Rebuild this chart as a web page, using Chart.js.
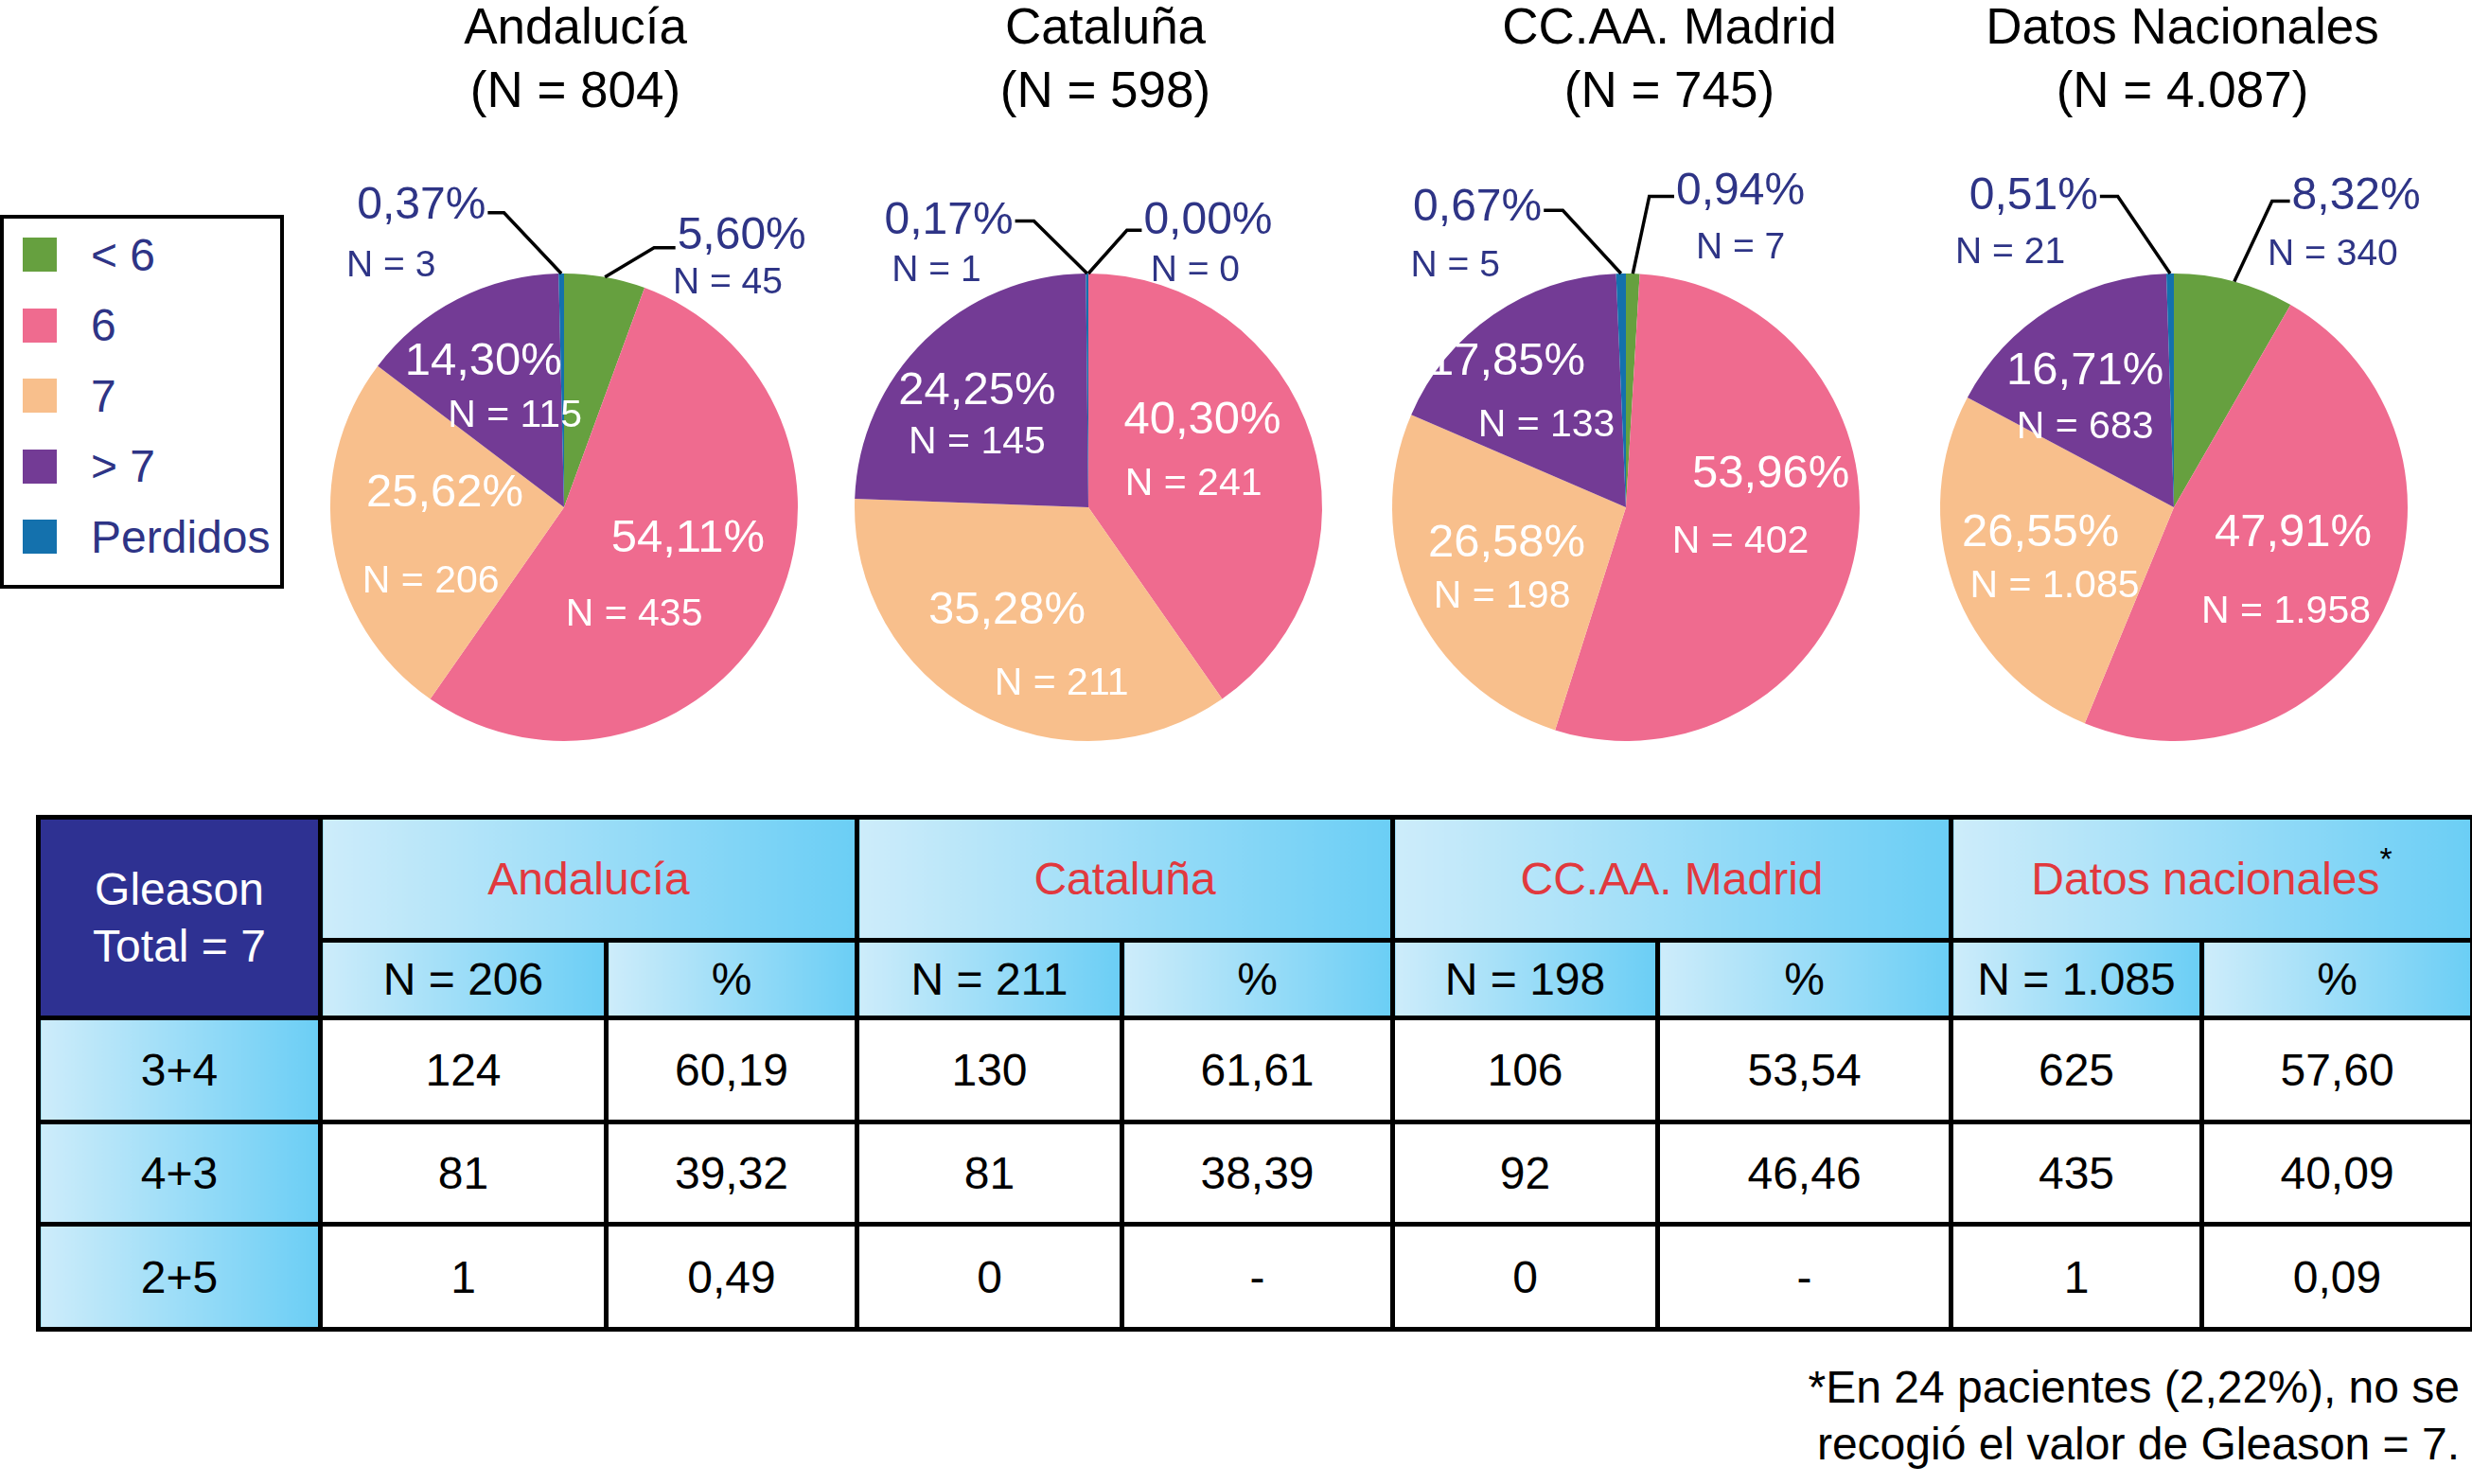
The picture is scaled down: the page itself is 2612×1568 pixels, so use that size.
<!DOCTYPE html>
<html>
<head>
<meta charset="utf-8">
<script src="https://cdn.jsdelivr.net/npm/chart.js@4.4.1/dist/chart.umd.min.js"></script>
<style>
  html, body { margin: 0; padding: 0; background: #fff; }
  body { width: 2612px; height: 1568px; position: relative; overflow: hidden; font-family: 'Liberation Sans', Arial, sans-serif; }
  canvas.pie { position: absolute; top: 150px; }
  .title { position: absolute; top: -6px; width: 600px; text-align: center; font-size: 53px; line-height: 67px; color: #000; }
  #legend { position: absolute; left: 0; top: 227px; width: 292px; height: 387px; border: 4px solid #000; }
  .lg { position: absolute; left: 20px; height: 50px; display: flex; align-items: center; font-size: 48px; color: #2e3486; }
  .lg i { display: inline-block; width: 36px; height: 36px; margin-right: 36px; }
  #tbl { position: absolute; left: 38px; top: 861px; width: 2572px; border-collapse: collapse; table-layout: fixed; font-size: 48px; }
  #tbl td { border: 5px solid #000; text-align: center; padding: 0; color: #000; }
  #tbl td.grad { background: linear-gradient(to right, #cdecfa, #6bcef5); }
  #tbl td.corner { background: #2e3192; color: #fff; line-height: 60px; }
  #tbl td.reg { color: #e1393e; }
  #tbl sup { color: #000; font-size: 34px; position: relative; top: -26px; vertical-align: baseline; line-height: 0; }
  #note { position: absolute; right: 13px; top: 1436px; text-align: right; font-size: 48px; line-height: 60px; color: #000; }
</style>
</head>
<body>
<div id="legend"></div>
<table id="tbl"></table>
<div id="note">*En 24 pacientes (2,22%), no se<br>recogió el valor de Gleason = 7.</div>

<script>
// --- data ---
const categories = ['< 6', '6', '7', '> 7', 'Perdidos'];
const regions = ['Andalucía', 'Cataluña', 'CC.AA. Madrid', 'Datos Nacionales'];
const regionTotals = [804, 598, 745, 4087];

const andaluciaN = [45, 435, 206, 115, 3];
const andaluciaPct = ['5,60', '54,11', '25,62', '14,30', '0,37'];
const catalunaN = [0, 241, 211, 145, 1];
const catalunaPct = ['0,00', '40,30', '35,28', '24,25', '0,17'];
const madridN = [7, 402, 198, 133, 5];
const madridPct = ['0,94', '53,96', '26,58', '17,85', '0,67'];
const nacionalN = [340, 1958, 1085, 683, 21];
const nacionalPct = ['8,32', '47,91', '26,55', '16,71', '0,51'];

// Gleason = 7 table
const tableRegions = ['Andalucía', 'Cataluña', 'CC.AA. Madrid', 'Datos nacionales'];
const gleason7Totals = [206, 211, 198, 1085];
const gleasonRows = ['3+4', '4+3', '2+5'];
const andaluciaG7 = [124, 81, 1];
const andaluciaG7Pct = ['60,19', '39,32', '0,49'];
const catalunaG7 = [130, 81, 0];
const catalunaG7Pct = ['61,61', '38,39', '-'];
const madridG7 = [106, 92, 0];
const madridG7Pct = ['53,54', '46,46', '-'];
const nacionalG7 = [625, 435, 1];
const nacionalG7Pct = ['57,60', '40,09', '0,09'];

// --- styles ---
const sliceColors = ['#66a03f', '#ef6b8f', '#f8bf8c', '#733b95', '#1471ad'];
const labelBlue = '#2e3486';
const pieCenters = [596, 1150, 1718, 2297];
const titleCenters = [608, 1168, 1764, 2306];

// label placement, in units of the pie radius from its centre
// inside: [pctX, pctY, nX, nY]; outer: pct / N text, elbow of the leader line
const labelLayout = [
  {
    inside: { 1: [0.53, 0.135, 0.30, 0.46], 2: [-0.51, -0.06, -0.57, 0.32], 3: [-0.345, -0.62, -0.21, -0.39] },
    outer: {
      0: { side: 'right', p: [0.76, -1.16], n: [0.70, -0.96], elbow: [0.385, -1.11] },
      4: { side: 'left', p: [-0.61, -1.29], n: [-0.74, -1.03], elbow: [-0.257, -1.26] }
    }
  },
  {
    inside: { 1: [0.488, -0.37, 0.45, -0.10], 2: [-0.348, 0.445, -0.115, 0.755], 3: [-0.476, -0.496, -0.476, -0.277] },
    outer: {
      0: { side: 'right', p: [0.512, -1.225], n: [0.457, -1.01], elbow: [0.165, -1.185] },
      4: { side: 'left', p: [-0.597, -1.225], n: [-0.65, -1.01], elbow: [-0.233, -1.225] }
    }
  },
  {
    inside: { 1: [0.62, -0.14, 0.49, 0.15], 2: [-0.51, 0.155, -0.53, 0.385], 3: [-0.51, -0.62, -0.34, -0.35] },
    outer: {
      0: { side: 'right', p: [0.49, -1.35], n: [0.49, -1.11], elbow: [0.10, -1.33] },
      4: { side: 'left', p: [-0.635, -1.28], n: [-0.73, -1.03], elbow: [-0.27, -1.27] }
    }
  },
  {
    inside: { 1: [0.51, 0.11, 0.48, 0.45], 2: [-0.57, 0.11, -0.51, 0.34], 3: [-0.38, -0.58, -0.38, -0.34] },
    outer: {
      0: { side: 'right', p: [0.78, -1.33], n: [0.68, -1.08], elbow: [0.42, -1.31] },
      4: { side: 'left', p: [-0.60, -1.33], n: [-0.70, -1.09], elbow: [-0.24, -1.33] }
    }
  }
];

const pieData = [andaluciaN, catalunaN, madridN, nacionalN];
const piePct = [andaluciaPct, catalunaPct, madridPct, nacionalPct];

const fmt = n => String(n).replace(/\B(?=(\d{3})+(?!\d))/g, '.');
const FONT = "'Liberation Sans', Arial, sans-serif";

// legend
const legendEl = document.getElementById('legend');
categories.forEach((c, i) => {
  const d = document.createElement('div');
  d.className = 'lg';
  d.style.top = (13 + i * 74.5) + 'px';
  d.innerHTML = `<i style="background:${sliceColors[i]}"></i>${c.replace('<', '&lt;').replace('>', '&gt;')}`;
  legendEl.appendChild(d);
});

// slice labels with leader lines
const sliceLabels = {
  id: 'sliceLabels',
  afterDatasetsDraw(chart) {
    const k = +chart.canvas.dataset.k;
    const lay = labelLayout[k];
    const pct = piePct[k];
    const values = chart.data.datasets[0].data;
    const ctx = chart.ctx;
    ctx.save();
    ctx.textAlign = 'center';
    ctx.textBaseline = 'middle';
    chart.getDatasetMeta(0).data.forEach((arc, i) => {
      const { x, y, outerRadius: r, startAngle, endAngle } =
        arc.getProps(['x', 'y', 'outerRadius', 'startAngle', 'endAngle'], true);
      const pctText = pct[i] + '%';
      const nText = 'N = ' + fmt(values[i]);
      if (lay.inside[i]) {
        const [px, py, nx, ny] = lay.inside[i];
        ctx.fillStyle = '#fff';
        ctx.font = `49px ${FONT}`;
        ctx.fillText(pctText, x + px * r, y + py * r);
        ctx.font = `41px ${FONT}`;
        ctx.fillText(nText, x + nx * r, y + ny * r);
      } else if (lay.outer[i]) {
        const o = lay.outer[i];
        const mid = (startAngle + endAngle) / 2;
        const px = x + o.p[0] * r, py = y + o.p[1] * r;
        ctx.font = `48px ${FONT}`;
        const w = ctx.measureText(pctText).width;
        const ex = x + o.elbow[0] * r, ey = y + o.elbow[1] * r;
        const tx = o.side === 'left' ? px + w / 2 + 2 : px - w / 2 - 2;
        ctx.strokeStyle = '#000';
        ctx.lineWidth = 3.5;
        ctx.beginPath();
        ctx.moveTo(x + Math.cos(mid) * r, y + Math.sin(mid) * r);
        ctx.lineTo(ex, ey);
        ctx.lineTo(tx, ey);
        ctx.stroke();
        ctx.fillStyle = labelBlue;
        ctx.fillText(pctText, px, py);
        ctx.font = `39px ${FONT}`;
        ctx.fillText(nText, x + o.n[0] * r, y + o.n[1] * r);
      }
    });
    ctx.restore();
  }
};

regions.forEach((name, k) => {
  const t = document.createElement('div');
  t.className = 'title';
  t.style.left = (titleCenters[k] - 300) + 'px';
  t.innerHTML = `${name}<br>(N = ${fmt(regionTotals[k])})`;
  document.body.appendChild(t);

  const cv = document.createElement('canvas');
  cv.className = 'pie';
  cv.width = 600;
  cv.height = 650;
  cv.dataset.k = k;
  cv.style.left = (pieCenters[k] - 300) + 'px';
  document.body.appendChild(cv);

  new Chart(cv, {
    type: 'pie',
    data: {
      labels: categories,
      datasets: [{ data: pieData[k], backgroundColor: sliceColors, borderWidth: 0 }]
    },
    options: {
      responsive: false,
      animation: false,
      radius: 247,
      layout: { padding: { top: 122, bottom: 0, left: 0, right: 0 } },
      plugins: { legend: { display: false }, tooltip: { enabled: false } }
    },
    plugins: [sliceLabels]
  });
});

// table
const g7N = [andaluciaG7, catalunaG7, madridG7, nacionalG7];
const g7Pct = [andaluciaG7Pct, catalunaG7Pct, madridG7Pct, nacionalG7Pct];
const colW = [298, 302, 265, 280, 286, 280, 310, 265, 286];
let html = '<colgroup>' + colW.map(w => `<col style="width:${w}px">`).join('') + '</colgroup>';
html += '<tr style="height:130px"><td class="corner" rowspan="2">Gleason<br>Total = 7</td>';
tableRegions.forEach((r, k) => {
  html += `<td class="grad reg" colspan="2">${r}${k === 3 ? '<sup>*</sup>' : ''}</td>`;
});
html += '</tr><tr style="height:82px">';
gleason7Totals.forEach(t => {
  html += `<td class="grad">N = ${fmt(t)}</td><td class="grad">%</td>`;
});
html += '</tr>';
const rowH = [110, 108, 111];
gleasonRows.forEach((g, i) => {
  html += `<tr style="height:${rowH[i]}px"><td class="grad">${g}</td>`;
  g7N.forEach((arr, k) => {
    html += `<td>${fmt(arr[i])}</td><td>${g7Pct[k][i]}</td>`;
  });
  html += '</tr>';
});
document.getElementById('tbl').innerHTML = html;
</script>
</body>
</html>
